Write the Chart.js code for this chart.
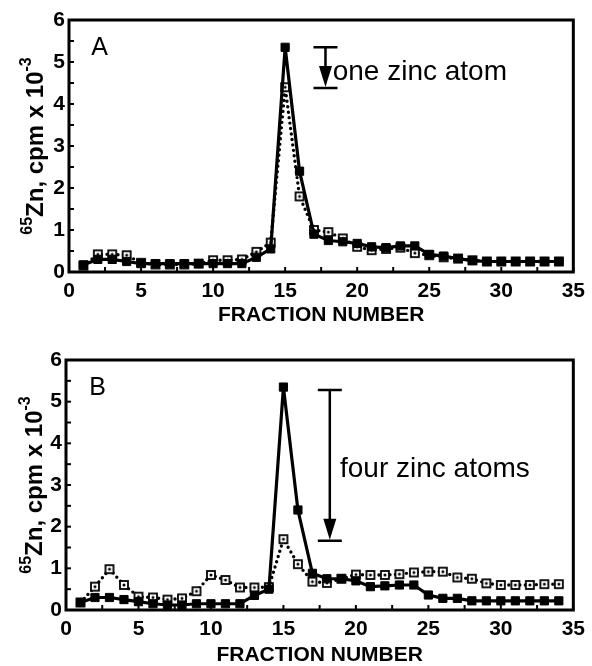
<!DOCTYPE html>
<html>
<head>
<meta charset="utf-8">
<script src="https://cdn.jsdelivr.net/npm/chart.js@4.4.1/dist/chart.umd.min.js"></script>
<style>
html, body { margin: 0; padding: 0; background: #fff; }
#wrap { position: relative; width: 592px; height: 666px; }
.panel { position: absolute; left: 0; width: 592px; }
</style>
</head>
<body>
<div id="wrap">
  <div class="panel" style="top:0;height:330px"><canvas id="chartA"></canvas></div>
  <div class="panel" style="top:330px;height:336px"><canvas id="chartB"></canvas></div>
</div>
<script>
// fraction numbers (x axis)
var fractions = [1,2,3,4,5,6,7,8,9,10,11,12,13,14,15,16,17,18,19,20,21,22,23,24,25,26,27,28,29,30,31,32,33,34];

// panel A, 65Zn cpm x 10^-3
var aFilled = [0.17,0.3,0.3,0.25,0.2,0.2,0.2,0.2,0.2,0.2,0.2,0.2,0.35,0.55,5.35,2.4,0.9,0.75,0.72,0.68,0.6,0.58,0.62,0.62,0.42,0.38,0.32,0.27,0.25,0.25,0.25,0.25,0.25,0.25];
var aOpen   = [0.15,0.42,0.42,0.4,0.22,0.18,0.18,0.18,0.2,0.28,0.28,0.3,0.48,0.7,4.4,1.8,1.0,0.95,0.8,0.6,0.52,0.55,0.58,0.45,0.4,0.35,0.32,0.28,0.25,0.25,0.25,0.25,0.25,0.25];

// panel B
var bFilled = [0.18,0.3,0.3,0.25,0.2,0.15,0.12,0.12,0.15,0.15,0.15,0.15,0.35,0.5,5.35,2.4,0.88,0.75,0.75,0.7,0.56,0.58,0.6,0.6,0.36,0.28,0.28,0.22,0.22,0.22,0.22,0.22,0.22,0.22];
var bOpen   = [0.18,0.56,0.98,0.6,0.32,0.3,0.25,0.28,0.45,0.84,0.72,0.54,0.54,0.55,1.7,1.1,0.68,0.65,0.75,0.85,0.84,0.84,0.86,0.9,0.92,0.92,0.78,0.75,0.64,0.6,0.6,0.6,0.62,0.62];

var xLabel = "FRACTION NUMBER";
var font = "'Liberation Sans', Arial, sans-serif";

function pts(ys) {
    return fractions.map(function (f, i) { return {x: f, y: ys[i]}; });
}

// open square with a dot, like the dotted series markers
function openMark() {
    var c = document.createElement('canvas');
    c.width = 12; c.height = 12;
    var g = c.getContext('2d');
    g.fillStyle = '#fff';
    g.fillRect(2, 2, 8, 8);
    g.strokeStyle = '#000';
    g.lineWidth = 1.8;
    g.strokeRect(2, 2, 8, 8);
    g.fillStyle = '#000';
    g.beginPath(); g.arc(6, 6, 1.5, 0, Math.PI * 2); g.fill();
    return c;
}

// frame, inward ticks, y title with superscripts, panel notes
var decor = {
    id: 'decor',
    afterDatasetsDraw: function (chart, args, opt) {
        var ctx = chart.ctx, a = chart.chartArea;
        var xs = chart.scales.x, ys = chart.scales.y;
        ctx.save();
        ctx.strokeStyle = '#000';
        ctx.fillStyle = '#000';
        // ticks
        ctx.lineWidth = 2;
        xs.ticks.forEach(function (t) {
            var px = xs.getPixelForValue(t.value);
            ctx.beginPath(); ctx.moveTo(px, a.bottom); ctx.lineTo(px, a.bottom - 5); ctx.stroke();
        });
        ys.ticks.forEach(function (t) {
            var py = ys.getPixelForValue(t.value);
            ctx.beginPath(); ctx.moveTo(a.left, py); ctx.lineTo(a.left + 5, py); ctx.stroke();
        });
        // frame
        ctx.lineWidth = 3;
        ctx.strokeRect(a.left, a.top, a.right - a.left, a.bottom - a.top);

        // y title: 65Zn, cpm x 10-3
        var cy = (a.top + a.bottom) / 2;
        ctx.translate(opt.titleX, cy);
        ctx.rotate(-Math.PI / 2);
        ctx.textBaseline = 'alphabetic';
        var supF = 'bold 16px ' + font, mainF = 'bold 24px ' + font;
        ctx.font = supF; var w1 = ctx.measureText('65').width; var w3 = ctx.measureText('-3').width;
        ctx.font = mainF; var w2 = ctx.measureText('Zn, cpm x 10').width;
        var sx = -(w1 + w2 + w3) / 2;
        ctx.font = supF; ctx.fillText('65', sx, -11);
        ctx.font = mainF; ctx.fillText('Zn, cpm x 10', sx + w1, 0);
        ctx.font = supF; ctx.fillText('-3', sx + w1 + w2, -12);
        ctx.setTransform(1, 0, 0, 1, 0, 0);

        // panel letter
        ctx.font = '25px ' + font;
        ctx.textAlign = 'left';
        ctx.fillText(opt.letter, xs.getPixelForValue(opt.letterAt[0]), ys.getPixelForValue(opt.letterAt[1]));

        // zinc atom bracket with arrow
        var bx = xs.getPixelForValue(opt.beam[0]);
        var bt = ys.getPixelForValue(opt.beam[1]);
        var bb = ys.getPixelForValue(opt.beam[2]);
        ctx.lineWidth = 2.5;
        ctx.beginPath();
        ctx.moveTo(bx - 12, bt); ctx.lineTo(bx + 12, bt);
        ctx.moveTo(bx - 12, bb); ctx.lineTo(bx + 12, bb);
        ctx.moveTo(bx, bt); ctx.lineTo(bx, bb - 20);
        ctx.stroke();
        ctx.beginPath();
        ctx.moveTo(bx - 6.5, bb - 22); ctx.lineTo(bx + 6.5, bb - 22); ctx.lineTo(bx, bb - 1);
        ctx.closePath(); ctx.fill();
        ctx.font = '28px ' + font;
        ctx.fillText(opt.note, xs.getPixelForValue(opt.noteAt[0]), ys.getPixelForValue(opt.noteAt[1]));
        ctx.restore();
    }
};

function makeChart(id, filled, open, pad, yWidth, xHeight, titlePad, opt) {
    var ctx = document.getElementById(id).getContext('2d');
    return new Chart(ctx, {
        type: 'scatter',
        data: {
            datasets: [
                {
                    label: 'filled',
                    data: pts(filled),
                    showLine: true,
                    borderColor: '#000',
                    borderWidth: 3.2,
                    pointStyle: 'rect',
                    pointRadius: 5.8,
                    pointBackgroundColor: '#000',
                    pointBorderColor: '#000',
                    pointBorderWidth: 1
                },
                {
                    label: 'open',
                    data: pts(open),
                    showLine: true,
                    borderColor: '#000',
                    borderWidth: 3.4,
                    borderDash: [0, 5.5],
                    borderCapStyle: 'round',
                    pointStyle: openMark(),
                    pointRadius: 5.5
                }
            ]
        },
        options: {
            responsive: true,
            maintainAspectRatio: false,
            animation: false,
            layout: { padding: pad },
            plugins: {
                legend: { display: false },
                tooltip: { enabled: false },
                decor: opt
            },
            scales: {
                x: {
                    type: 'linear',
                    min: 0, max: 35,
                    grid: { display: false, drawTicks: false },
                    border: { display: false },
                    ticks: {
                        stepSize: 2.5,
                        autoSkip: false,
                        maxRotation: 0,
                        padding: 7,
                        color: '#000',
                        font: { family: font, size: 21, weight: 'bold' },
                        callback: function (v) { return v % 5 === 0 ? v : ''; }
                    },
                    title: {
                        display: true,
                        text: xLabel,
                        color: '#000',
                        // bottom titles are offset by the bottom padding
                        padding: { top: 0, bottom: titlePad },
                        font: { family: font, size: 21, weight: 'bold', lineHeight: 1 }
                    },
                    afterFit: function (s) { s.height = xHeight; }
                },
                y: {
                    min: 0, max: 6,
                    grid: { display: false, drawTicks: false },
                    border: { display: false },
                    ticks: {
                        stepSize: 0.5,
                        autoSkip: false,
                        padding: 4,
                        color: '#000',
                        font: { family: font, size: 21, weight: 'bold' },
                        callback: function (v) { return Number.isInteger(v) ? v : ''; }
                    },
                    afterFit: function (s) { s.width = yWidth; }
                }
            }
        },
        plugins: [decor]
    });
}

makeChart('chartA', aFilled, aOpen, {left: 0, right: 11, top: 20, bottom: 0}, 69, 58, 4,
    {titleX: 43, letter: 'A', letterAt: [1.55, 5.17], beam: [17.8, 5.35, 4.38], note: 'one zinc atom', noteAt: [18.3, 4.57]});
makeChart('chartB', bFilled, bOpen, {left: 0, right: 16, top: 30, bottom: 0}, 66, 56, 0,
    {titleX: 42, letter: 'B', letterAt: [1.6, 5.16], beam: [18.2, 5.28, 1.66], note: 'four zinc atoms', noteAt: [18.9, 3.19]});
</script>
</body>
</html>
